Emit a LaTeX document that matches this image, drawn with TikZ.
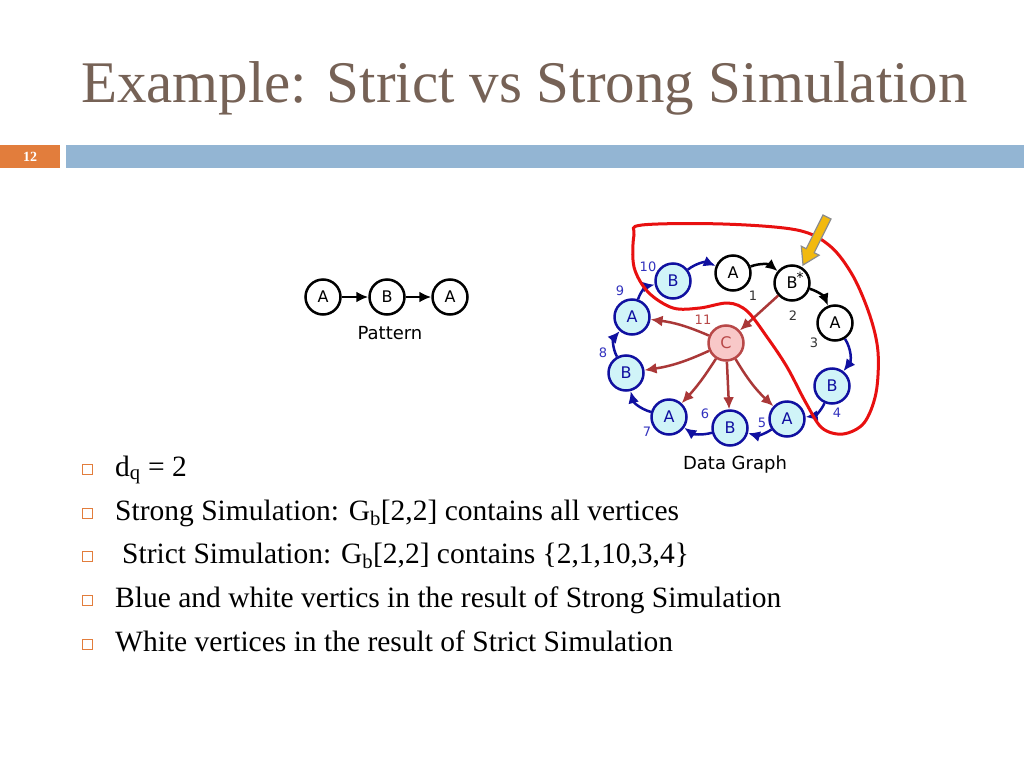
\documentclass[tikz,border=0pt]{standalone}
\usepackage{fontspec}
\setmainfont{Liberation Serif}
\newfontfamily\gfont{DejaVu Sans}
\usetikzlibrary{arrows.meta}
\definecolor{titlec}{RGB}{118,98,86}
\definecolor{orangec}{RGB}{226,125,60}
\definecolor{barc}{RGB}{147,181,211}
\definecolor{dblue}{RGB}{16,16,160}
\definecolor{lblue}{RGB}{208,244,248}
\definecolor{numblue}{RGB}{50,50,190}
\definecolor{redge}{RGB}{170,56,56}
\definecolor{cfill}{RGB}{248,200,200}
\definecolor{cdraw}{RGB}{184,72,72}
\definecolor{loopred}{RGB}{232,16,16}
\definecolor{yel}{RGB}{242,185,15}
\tikzset{
  pnode/.style={circle,draw=black,line width=2.5pt,fill=white,minimum size=35pt,inner sep=0pt,font=\gfont\fontsize{16}{16}\selectfont},
  bnode/.style={pnode,draw=dblue,fill=lblue,text=dblue},
  wnode/.style={pnode},
  cnode/.style={pnode,draw=cdraw,fill=cfill,text=cdraw},
  tipa/.style={-{Latex[length=12pt,width=11pt]}},
  bedge/.style={tipa,draw=dblue,line width=2.5pt},
  kedge/.style={tipa,draw=black,line width=2.5pt},
  redg/.style={tipa,draw=redge,line width=2.5pt},
  numl/.style={font=\gfont\fontsize{13}{13}\selectfont,text=numblue,inner sep=0pt},
  numk/.style={numl,text=black!80},
  bullet/.style={draw=orangec,line width=0.8pt,minimum size=10pt,inner sep=0pt},
  btext/.style={anchor=base west,inner sep=0pt,font=\fontsize{29.5}{30}\selectfont},
}
\begin{document}
\begin{tikzpicture}[x=1pt,y=-1pt]
\useasboundingbox (0,0) rectangle (1024,768);
\fill[white] (0,0) rectangle (1024,768);
% title
\node[anchor=base west,inner sep=0pt,text=titlec,font=\fontsize{59}{60}\selectfont] (title) at (81,102) {Example: Strict vs Strong Simulation};
% bars
\fill[orangec] (0,145) rectangle (60,168);
\node[text=white,font=\bfseries\fontsize{14}{14}\selectfont,inner sep=0pt] (pg) at (30,156.5) {12};
\fill[barc] (66,145) rectangle (1024,168);
% pattern
\node[pnode] (p1) at (323,297) {A};
\node[pnode] (p2) at (387,297) {B};
\node[pnode] (p3) at (450,297) {A};
\draw[kedge] (p1) -- (p2);
\draw[kedge] (p2) -- (p3);
\node[font=\gfont\fontsize{18}{18}\selectfont,inner sep=0pt] (plab) at (390,333) {Pattern};
% data graph
\node[bnode] (n10) at (673,281) {B};
\node[wnode] (n1) at (733,273) {A};
\node[wnode] (n2) at (792,283) {B};
\node[wnode] (n3) at (835,323) {A};
\node[bnode] (n4) at (832,386) {B};
\node[bnode] (n5) at (787,419) {A};
\node[bnode] (n6) at (730,428) {B};
\node[bnode] (n7) at (669,417) {A};
\node[bnode] (n8) at (626,373) {B};
\node[bnode] (n9) at (632,317) {A};
\node[cnode] (c) at (726,343) {C};
\draw[bedge] (n9) to[bend left=30] (n10);
\draw[bedge] (n10) to[bend left=30] (n1);
\draw[kedge] (n1) to[bend left=30] (n2);
\draw[kedge] (n2) to[bend left=25] (n3);
\draw[bedge] (n3) to[bend left=35] (n4);
\draw[bedge] (n4) to[bend left=30] (n5);
\draw[bedge] (n5) to[bend left=25] (n6);
\draw[bedge] (n6) to[bend left=25] (n7);
\draw[bedge] (n7) to[bend left=30] (n8);
\draw[bedge] (n8) to[bend left=35] (n9);
\draw[redg] (n2) -- (c);
\draw[redg] (c) to[bend right=8] (n9);
\draw[redg] (c) to[bend left=8] (n8);
\draw[redg] (c) to[bend left=5] (n7);
\draw[redg] (c) -- (n6);
\draw[redg] (c) to[bend right=8] (n5);
\node[numl] (l10) at (648,267) {10};
\node[numl] (l9) at (620,291) {9};
\node[numl] (l8) at (603,353) {8};
\node[numl] (l7) at (647,432) {7};
\node[numl] (l6) at (705,414) {6};
\node[numl] (l5) at (762,423) {5};
\node[numl] (l4) at (837,413) {4};
\node[numk] (l3) at (814,343) {3};
\node[numk] (l2) at (793,316) {2};
\node[numk] (l1) at (753,296) {1};
\node[numl,text=cdraw] (l11) at (703,320) {11};
\node[font=\gfont\fontsize{14}{14}\selectfont,inner sep=0pt] (star) at (800,277) {*};
\node[font=\gfont\fontsize{18}{18}\selectfont,inner sep=0pt] (dlab) at (735,465) {Data Graph};
% red loop
\draw[loopred,line width=3pt] plot[smooth cycle,tension=0.55] coordinates {
(642,225) (723,224) (797,230) (830,246) (853,276) (870,316) (878,352) (876,393)
(864,423) (843,434) (822,428) (806,403) (787,367) (767,337) (747,311) (728,303)
(700,308) (673,308) (648,292) (634,267) (634,235)};
% yellow arrow
\draw[fill=yel,draw=black!45,line width=1.2pt,line join=miter]
(831,219) -- (814.2,252.7) -- (819.1,255.2) -- (803,265) -- (801.3,246.2) -- (806.2,248.7) -- (823,215) -- cycle;
% bullets
\foreach \yy/\nm in {476/b1,520/b2,563/b3,607/b4,651/b5}{
  \node[bullet] (\nm) at (87,\yy-7) {};
}
\node[btext] (t1) at (115,476) {d\textsubscript{q} = 2};
\node[btext] (t2) at (115,520) {Strong Simulation: G\textsubscript{b}[2,2] contains all vertices};
\node[btext] (t3) at (122,563) {Strict Simulation: G\textsubscript{b}[2,2] contains \{2,1,10,3,4\}};
\node[btext] (t4) at (115,607) {Blue and white vertics in the result of Strong Simulation};
\node[btext] (t5) at (115,651) {White vertices in the result of Strict Simulation};
\end{tikzpicture}
\end{document}
